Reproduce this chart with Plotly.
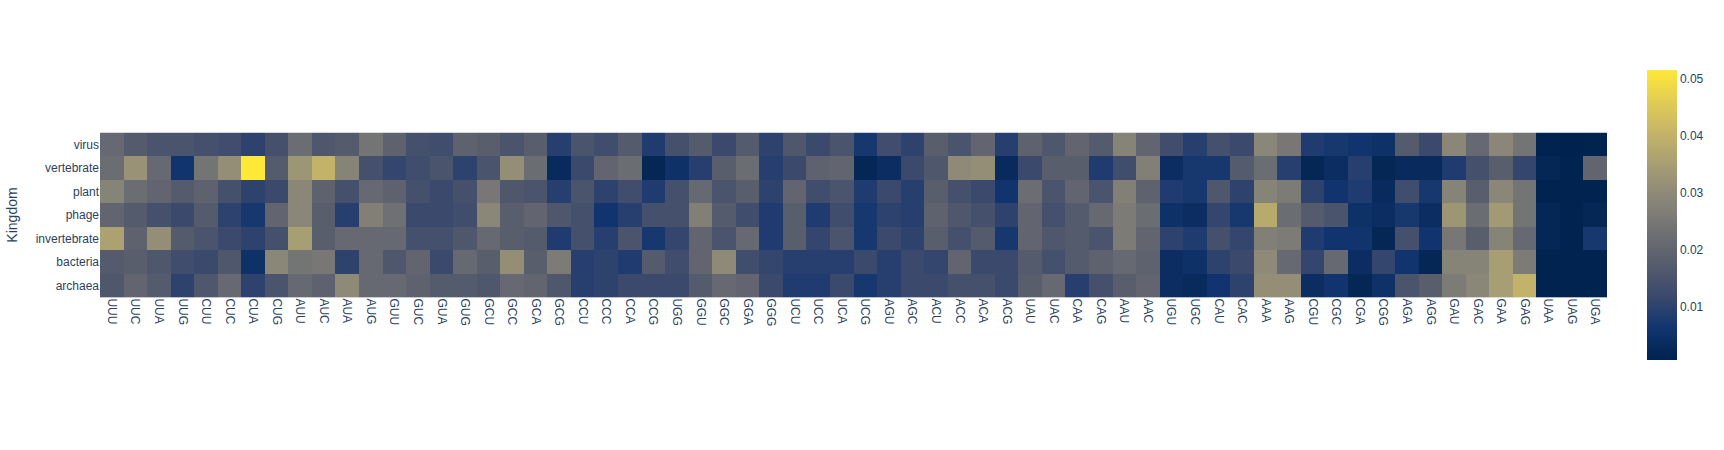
import numpy as np
import plotly.express as px

codons = ["UUU","UUC","UUA","UUG","CUU","CUC","CUA","CUG","AUU","AUC","AUA","AUG",
          "GUU","GUC","GUA","GUG","GCU","GCC","GCA","GCG","CCU","CCC","CCA","CCG",
          "UGG","GGU","GGC","GGA","GGG","UCU","UCC","UCA","UCG","AGU","AGC","ACU",
          "ACC","ACA","ACG","UAU","UAC","CAA","CAG","AAU","AAC","UGU","UGC","CAU",
          "CAC","AAA","AAG","CGU","CGC","CGA","CGG","AGA","AGG","GAU","GAC","GAA",
          "GAG","UAA","UAG","UGA"]

kingdoms = ["virus", "vertebrate", "plant", "phage", "invertebrate", "bacteria", "archaea"]

virus = [0.021,0.017,0.015,0.015,0.014,0.013,0.010,0.014,0.022,0.016,0.017,0.024,
         0.019,0.014,0.013,0.019,0.018,0.015,0.018,0.009,0.015,0.013,0.017,0.008,
         0.014,0.017,0.012,0.017,0.010,0.016,0.012,0.015,0.007,0.013,0.010,0.018,
         0.015,0.020,0.009,0.019,0.016,0.020,0.017,0.028,0.020,0.013,0.009,0.014,
         0.012,0.029,0.025,0.008,0.007,0.006,0.005,0.017,0.012,0.029,0.021,0.029,
         0.024,0.001,0.0006,0.001]
vertebrate = [0.022,0.032,0.021,0.006,0.024,0.031,0.0516,0.017,0.033,0.040,0.028,0.014,
              0.011,0.013,0.015,0.010,0.015,0.031,0.022,0.003,0.012,0.020,0.022,0.002,
              0.005,0.009,0.018,0.022,0.009,0.012,0.019,0.020,0.002,0.004,0.012,0.016,
              0.030,0.031,0.003,0.012,0.018,0.018,0.008,0.013,0.027,0.004,0.007,0.007,
              0.017,0.022,0.009,0.002,0.004,0.009,0.002,0.003,0.003,0.008,0.014,0.018,
              0.011,0.002,0.001,0.020]
plant = [0.028,0.022,0.020,0.017,0.019,0.014,0.010,0.012,0.029,0.019,0.014,0.021,
         0.019,0.014,0.012,0.014,0.025,0.016,0.015,0.009,0.015,0.010,0.013,0.008,
         0.014,0.021,0.015,0.018,0.010,0.020,0.013,0.015,0.008,0.012,0.009,0.018,
         0.014,0.012,0.006,0.022,0.015,0.020,0.015,0.027,0.019,0.008,0.007,0.016,
         0.010,0.028,0.026,0.010,0.006,0.008,0.003,0.013,0.007,0.028,0.018,0.029,
         0.024,0.001,0.001,0.001]
phage = [0.020,0.017,0.014,0.012,0.017,0.010,0.007,0.020,0.029,0.018,0.009,0.027,
         0.023,0.012,0.012,0.013,0.029,0.018,0.020,0.016,0.014,0.006,0.009,0.014,
         0.014,0.027,0.017,0.013,0.008,0.018,0.008,0.013,0.007,0.010,0.009,0.019,
         0.016,0.014,0.010,0.020,0.014,0.017,0.021,0.026,0.022,0.005,0.004,0.011,
         0.007,0.038,0.022,0.017,0.015,0.005,0.004,0.007,0.004,0.033,0.022,0.034,
         0.024,0.002,0.001,0.002]
invertebrate = [0.036,0.019,0.031,0.017,0.015,0.012,0.010,0.014,0.035,0.018,0.021,0.021,
                0.021,0.014,0.014,0.016,0.021,0.018,0.017,0.008,0.014,0.009,0.015,0.007,
                0.011,0.020,0.015,0.021,0.008,0.018,0.011,0.015,0.007,0.012,0.010,0.018,
                0.014,0.017,0.007,0.020,0.016,0.017,0.015,0.026,0.020,0.010,0.008,0.014,
                0.011,0.027,0.026,0.008,0.006,0.006,0.002,0.014,0.006,0.025,0.018,0.028,
                0.021,0.002,0.001,0.007]
bacteria = [0.017,0.018,0.016,0.013,0.012,0.016,0.005,0.029,0.024,0.025,0.010,0.021,
            0.016,0.020,0.012,0.021,0.018,0.031,0.018,0.026,0.009,0.010,0.008,0.017,
            0.013,0.020,0.030,0.013,0.011,0.009,0.009,0.009,0.012,0.009,0.012,0.011,
            0.020,0.012,0.012,0.017,0.014,0.017,0.019,0.021,0.019,0.004,0.005,0.010,
            0.012,0.030,0.021,0.011,0.021,0.004,0.011,0.006,0.002,0.028,0.028,0.035,
            0.026,0.001,0.0008,0.001]
archaea = [0.016,0.020,0.017,0.010,0.016,0.021,0.010,0.015,0.021,0.019,0.030,0.021,
           0.021,0.019,0.017,0.017,0.016,0.021,0.020,0.016,0.009,0.010,0.012,0.012,
           0.012,0.017,0.021,0.020,0.012,0.008,0.008,0.012,0.007,0.009,0.012,0.012,
           0.014,0.014,0.012,0.018,0.021,0.009,0.014,0.018,0.020,0.004,0.003,0.006,
           0.010,0.031,0.031,0.004,0.006,0.002,0.005,0.015,0.018,0.026,0.029,0.035,
           0.040,0.001,0.001,0.001]

z = np.array([virus, vertebrate, plant, phage, invertebrate, bacteria, archaea])

fig = px.imshow(z, x=codons, y=kingdoms, color_continuous_scale="cividis")
fig.update_xaxes(tickangle=90, title_text=None, automargin=False)
fig.update_yaxes(title_text="Kingdom", automargin=False, title_standoff=14)
fig.update_layout(width=1724, height=450, coloraxis_colorbar_title_text="",
                  font_family="Arial",
                  margin=dict(l=100, r=117, t=60, b=80))
fig.write_html("out.html", config={"displayModeBar": False},
               post_script="document.body.style.margin='0px';")
